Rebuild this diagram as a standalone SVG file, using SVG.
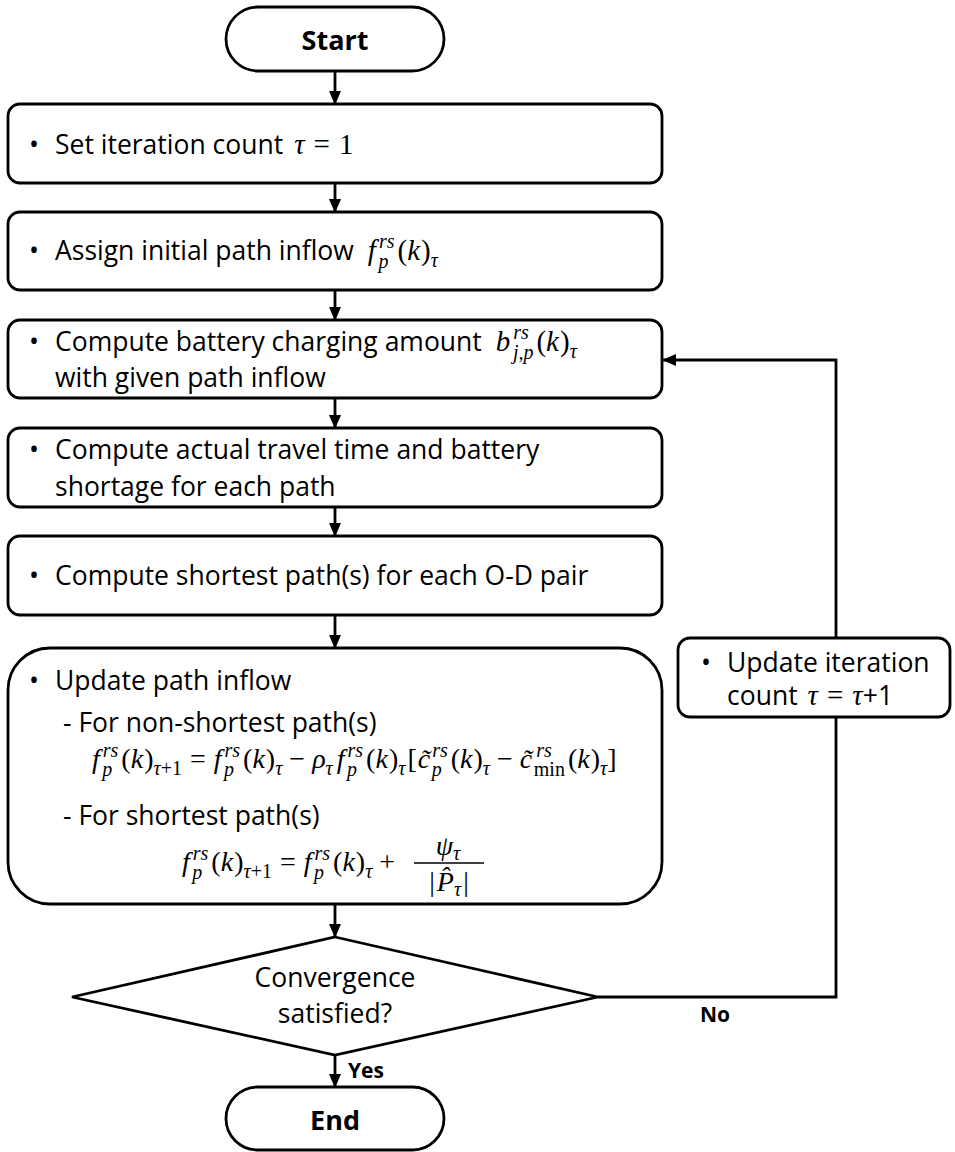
<svg xmlns="http://www.w3.org/2000/svg" width="955" height="1152" viewBox="0 0 955 1152">
<defs>
<style>
.shape{fill:#fff;stroke:#000;stroke-width:2.8}
.conn{fill:none;stroke:#000;stroke-width:2.8}
.t{font-family:"Open Sans","Liberation Sans",sans-serif;font-size:26.5px;fill:#000}
.b{font-family:"Open Sans","Liberation Sans",sans-serif;font-weight:bold;fill:#000}
.m{font-family:"Liberation Serif","DejaVu Serif",serif;font-style:italic;font-size:29px}
.u{font-family:"Liberation Serif","DejaVu Serif",serif;font-style:normal;font-size:29px}
.fm{font-family:"Liberation Serif","DejaVu Serif",serif;font-size:28px;fill:#000}
.fm .m,.fm .u{font-size:28px}
.sc,.fm .sc{font-size:20px}
</style>
<marker id="ah" markerUnits="userSpaceOnUse" markerWidth="14" markerHeight="12" viewBox="0 0 14 12" refX="13" refY="6" orient="auto">
<path d="M0,0 L14,6 L0,12 z" fill="#000"/>
</marker>
</defs>
<rect width="955" height="1152" fill="#fff"/>

<g id="start">
<rect class="shape" x="226" y="7" width="218" height="64" rx="32"/>
<text class="b" x="335" y="50" font-size="27" text-anchor="middle">Start</text>
</g>

<g id="set-iteration">
<rect class="shape" x="8" y="104" width="654" height="79" rx="12"/>
<text class="t" y="154"><tspan x="29">•</tspan><tspan x="55">Set iteration count</tspan><tspan class="m" dx="11">τ</tspan><tspan class="u" dx="9">=</tspan><tspan class="u" dx="9">1</tspan></text>
</g>

<g id="assign-inflow">
<rect class="shape" x="8" y="212" width="654" height="78" rx="12"/>
<text class="t" y="260"><tspan x="29">•</tspan><tspan x="55">Assign initial path inflow</tspan><tspan class="m" dx="14">f</tspan><tspan class="m sc" dx="3" dy="-12">rs</tspan><tspan class="m sc" dx="-16" dy="20">p</tspan><tspan class="u" dx="9" dy="-8">(</tspan><tspan class="m">k</tspan><tspan class="u" dx="1">)</tspan><tspan class="m sc" dy="7">τ</tspan></text>
</g>

<g id="compute-charging">
<rect class="shape" x="8" y="320" width="654" height="78" rx="12"/>
<text class="t" y="351"><tspan x="29">•</tspan><tspan x="55">Compute battery charging amount</tspan><tspan class="m" dx="14">b</tspan><tspan class="m sc" dx="3" dy="-12">rs</tspan><tspan class="m sc" dx="-16" dy="20">j,p</tspan><tspan class="u" dx="3" dy="-8">(</tspan><tspan class="m">k</tspan><tspan class="u" dx="1">)</tspan><tspan class="m sc" dy="7">τ</tspan></text>
<text class="t" x="55" y="387">with given path inflow</text>
</g>

<g id="compute-travel">
<rect class="shape" x="8" y="428" width="654" height="79" rx="12"/>
<text class="t" y="459"><tspan x="29">•</tspan><tspan x="55">Compute actual travel time and battery</tspan></text>
<text class="t" x="55" y="496">shortage for each path</text>
</g>

<g id="compute-shortest">
<rect class="shape" x="8" y="536" width="654" height="79" rx="12"/>
<text class="t" y="585"><tspan x="29">•</tspan><tspan x="55">Compute shortest path(s) for each O-D pair</tspan></text>
</g>

<g id="update-inflow">
<rect class="shape" x="8" y="648" width="654" height="256" rx="42"/>
<text class="t" y="690"><tspan x="29">•</tspan><tspan x="55">Update path inflow</tspan></text>
<text class="t" x="63" y="732">- For non-shortest path(s)</text>
<text class="fm" x="92" y="768"><tspan class="m">f</tspan><tspan class="m sc" dx="3" dy="-11">rs</tspan><tspan class="m sc" dx="-16" dy="19">p</tspan><tspan class="u" dx="9" dy="-8">(</tspan><tspan class="m">k</tspan><tspan class="u" dx="1">)</tspan><tspan class="m sc" dy="7">τ</tspan><tspan class="u sc">+1</tspan><tspan class="u" dx="8" dy="-7">=</tspan><tspan class="m" dx="8">f</tspan><tspan class="m sc" dx="3" dy="-11">rs</tspan><tspan class="m sc" dx="-16" dy="19">p</tspan><tspan class="u" dx="9" dy="-8">(</tspan><tspan class="m">k</tspan><tspan class="u" dx="1">)</tspan><tspan class="m sc" dy="7">τ</tspan><tspan class="u" dx="7" dy="-7">−</tspan><tspan class="m" dx="7">ρ</tspan><tspan class="m sc" dy="7">τ</tspan><tspan class="m" dx="4" dy="-7">f</tspan><tspan class="m sc" dx="3" dy="-11">rs</tspan><tspan class="m sc" dx="-16" dy="19">p</tspan><tspan class="u" dx="9" dy="-8">(</tspan><tspan class="m">k</tspan><tspan class="u" dx="1">)</tspan><tspan class="m sc" dy="7">τ</tspan><tspan class="u" dx="2" dy="-7">[</tspan><tspan class="m" dx="1">c̃</tspan><tspan class="m sc" dx="2" dy="-11">rs</tspan><tspan class="m sc" dx="-16" dy="19">p</tspan><tspan class="u" dx="9" dy="-8">(</tspan><tspan class="m">k</tspan><tspan class="u" dx="1">)</tspan><tspan class="m sc" dy="7">τ</tspan><tspan class="u" dx="7" dy="-7">−</tspan><tspan class="m" dx="7">c̃</tspan><tspan class="m sc" dx="4" dy="-11">rs</tspan><tspan class="u sc" dx="-18" dy="19">min</tspan><tspan class="u" dx="3" dy="-8">(</tspan><tspan class="m">k</tspan><tspan class="u" dx="1">)</tspan><tspan class="m sc" dy="7">τ</tspan><tspan class="u" dy="-7">]</tspan></text>
<text class="t" x="63" y="825">- For shortest path(s)</text>
<text class="fm" x="182" y="871"><tspan class="m">f</tspan><tspan class="m sc" dx="3" dy="-11">rs</tspan><tspan class="m sc" dx="-16" dy="19">p</tspan><tspan class="u" dx="9" dy="-8">(</tspan><tspan class="m">k</tspan><tspan class="u" dx="1">)</tspan><tspan class="m sc" dy="7">τ</tspan><tspan class="u sc">+1</tspan><tspan class="u" dx="8" dy="-7">=</tspan><tspan class="m" dx="8">f</tspan><tspan class="m sc" dx="3" dy="-11">rs</tspan><tspan class="m sc" dx="-16" dy="19">p</tspan><tspan class="u" dx="9" dy="-8">(</tspan><tspan class="m">k</tspan><tspan class="u" dx="1">)</tspan><tspan class="m sc" dy="7">τ</tspan><tspan class="u" dx="7" dy="-7">+</tspan></text>
<text class="fm" x="448" y="855" text-anchor="middle"><tspan class="m">ψ</tspan><tspan class="m sc" dy="5">τ</tspan></text>
<line x1="414" y1="863" x2="484" y2="863" stroke="#000" stroke-width="1.3"/>
<text class="fm" x="449" y="891" text-anchor="middle"><tspan class="u" font-size="31">|</tspan><tspan class="m" dx="2">P̂</tspan><tspan class="m sc" dy="5">τ</tspan><tspan class="u" font-size="31" dx="2" dy="-5">|</tspan></text>
</g>

<g id="update-iteration">
<rect class="shape" x="678" y="638" width="272" height="79" rx="12"/>
<text class="t" y="672"><tspan x="701">•</tspan><tspan x="727">Update iteration</tspan></text>
<text class="t" x="727" y="705">count<tspan class="m" dx="10">τ</tspan><tspan class="u" dx="9">=</tspan><tspan class="m" dx="9">τ</tspan>+1</text>
</g>

<g id="convergence">
<polygon class="shape" points="335,937 598,997 335,1055 72,997"/>
<text class="t" x="335" y="987" text-anchor="middle">Convergence</text>
<text class="t" x="335" y="1023" text-anchor="middle">satisfied?</text>
</g>

<g id="end">
<rect class="shape" x="226" y="1087" width="218" height="63" rx="31.5"/>
<text class="b" x="335" y="1130" font-size="27" text-anchor="middle">End</text>
</g>

<g id="connectors">
<line class="conn" x1="335" y1="71" x2="335" y2="104" marker-end="url(#ah)"/>
<line class="conn" x1="335" y1="183" x2="335" y2="212" marker-end="url(#ah)"/>
<line class="conn" x1="335" y1="290" x2="335" y2="320" marker-end="url(#ah)"/>
<line class="conn" x1="335" y1="398" x2="335" y2="428" marker-end="url(#ah)"/>
<line class="conn" x1="335" y1="507" x2="335" y2="536" marker-end="url(#ah)"/>
<line class="conn" x1="335" y1="615" x2="335" y2="648" marker-end="url(#ah)"/>
<line class="conn" x1="335" y1="904" x2="335" y2="937" marker-end="url(#ah)"/>
<line class="conn" x1="335" y1="1055" x2="335" y2="1087" marker-end="url(#ah)"/>
<polyline class="conn" points="598,997 836,997 836,717"/>
<polyline class="conn" points="836,638 836,360 663,360" marker-end="url(#ah)"/>
<text class="b" x="348" y="1078" font-size="21">Yes</text>
<text class="b" x="700" y="1022" font-size="21">No</text>
</g>
</svg>
